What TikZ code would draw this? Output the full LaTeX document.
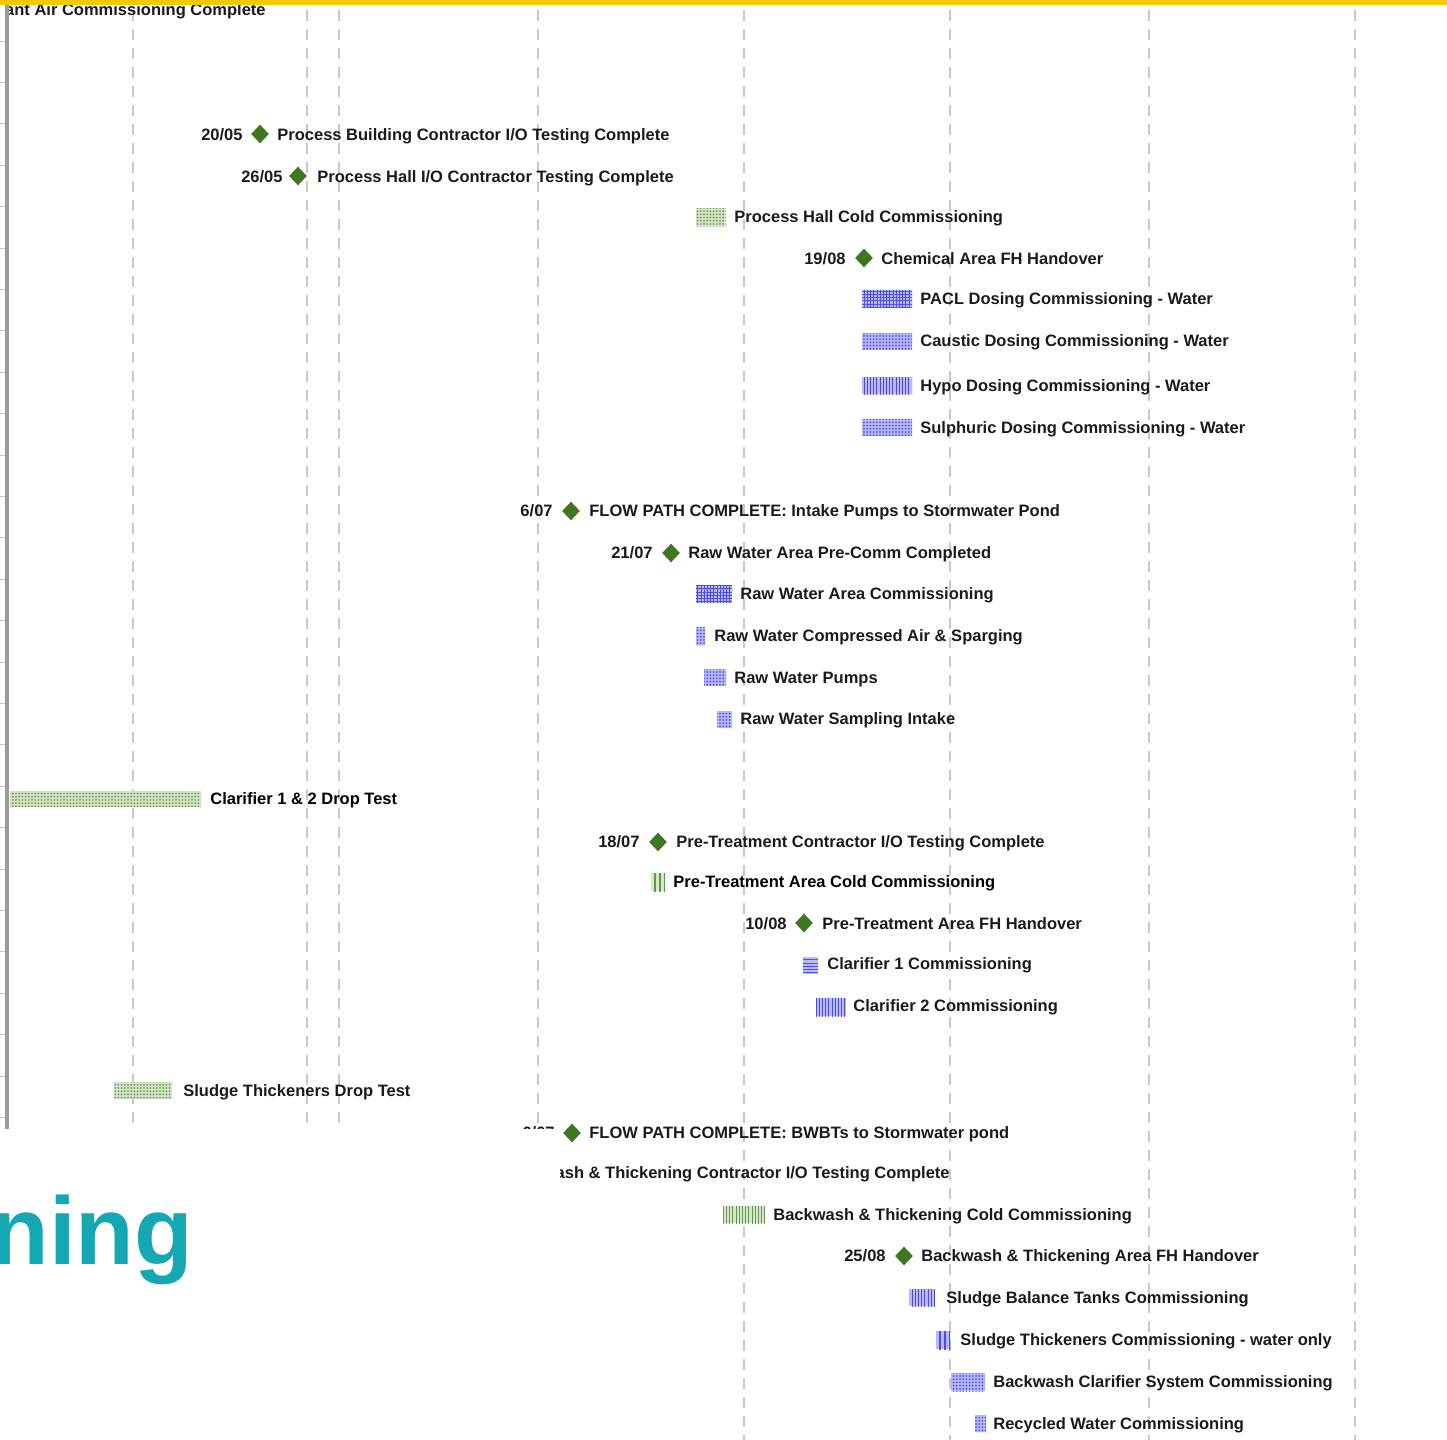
\documentclass[tikz,border=0pt]{standalone}
\usepackage{fontspec}
\setmainfont{Liberation Sans}
\usetikzlibrary{shapes.geometric,patterns.meta}
\definecolor{topyellow}{RGB}{247,200,0}
\definecolor{teal1}{RGB}{19,168,178}
\definecolor{msg}{RGB}{62,118,34}
\definecolor{gridc}{RGB}{200,200,200}
\definecolor{axisc}{RGB}{155,155,155}
\definecolor{tickc}{RGB}{200,200,200}
\definecolor{gfill}{RGB}{215,230,205}
\definecolor{gpat}{RGB}{100,150,75}
\definecolor{bfill}{RGB}{185,185,255}
\definecolor{bpat}{RGB}{75,75,240}
\definecolor{txt}{RGB}{25,25,35}
\tikzset{
 lbl/.style={font=\fontsize{8.25}{9}\selectfont\bfseries, text=txt, inner sep=0pt, anchor=base west},
 dlbl/.style={lbl, anchor=base east},
 msn/.style={diamond, fill=msg, minimum width=9pt, minimum height=9.5pt, inner sep=0pt},
 gridline/.style={draw=gridc, line width=1.2pt, dash pattern=on 5.5pt off 4pt},
 gbar/.style={preaction={fill=gfill}, pattern color=gpat},
 bbar/.style={preaction={fill=bfill}, pattern color=bpat},
 pdots/.style={pattern={Dots[distance=1.6pt,radius=0.5pt]}},
 pvl/.style={pattern={Lines[angle=90,distance=1.6pt,line width=0.5pt]}},
 pvlw/.style={pattern={Lines[angle=90,distance=2.5pt,line width=0.55pt]}},
 phl/.style={pattern={Lines[angle=0,distance=1.6pt,line width=0.5pt]}},
 phatch/.style={pattern={Hatch[distance=1.6pt,line width=0.3pt]}},
}
\begin{document}
\begin{tikzpicture}[x=0.5pt,y=-0.5pt]
\useasboundingbox (0,0) rectangle (1447,1440);
% grid lines
\foreach \gx in {133,307,339,538} \draw[gridline] (\gx,10) -- (\gx,1129);
\foreach \gx in {744,950,1149,1355} \draw[gridline] (\gx,10) -- (\gx,1440);
% axis
\draw[draw=axisc, line width=1.6pt] (7,4) -- (7,1130);
\foreach \k in {0,...,26} \draw[draw=tickc, line width=0.5pt] (0,{41+41.4*\k}) -- (5,{41+41.4*\k});
% top clipped text
\begin{scope}
\clip (9,0) rectangle (700,40);
\node[dlbl] (t0) at (266,16) {Plant Air Commissioning Complete};
\end{scope}
% rows
\node[dlbl] (d1) at (243,140) {20/05};
\node[msn] (m1) at (260,134) {};
\node[lbl] (t1) at (277,140) {Process Building Contractor I/O Testing Complete};
\node[dlbl] (d2) at (283,182) {26/05};
\node[msn] (m2) at (298,176) {};
\node[lbl] (t2) at (317,182) {Process Hall I/O Contractor Testing Complete};
\path[gbar,pdots] (696,208) rectangle (726,226);
\node[lbl] (t3) at (734,222) {Process Hall Cold Commissioning};
\node[dlbl] (d4) at (846,264) {19/08};
\node[msn] (m4) at (864,258) {};
\node[lbl] (t4) at (881,264) {Chemical Area FH Handover};
\path[bbar,phatch] (862,290) rectangle (912,307);
\node[lbl] (t5) at (920,304) {PACL Dosing Commissioning - Water};
\path[bbar,pdots] (862,333) rectangle (912,350);
\node[lbl] (t6) at (920,346) {Caustic Dosing Commissioning - Water};
\path[bbar,pvl] (862,377) rectangle (912,394);
\node[lbl] (t7) at (920,391) {Hypo Dosing Commissioning - Water};
\path[bbar,pdots] (862,419) rectangle (912,436);
\node[lbl] (t8) at (920,433) {Sulphuric Dosing Commissioning - Water};
\node[dlbl] (d9) at (553,516) {6/07};
\node[msn] (m9) at (571,511) {};
\node[lbl] (t9) at (589,516) {FLOW PATH COMPLETE: Intake Pumps to Stormwater Pond};
\node[dlbl] (d10) at (653,558) {21/07};
\node[msn] (m10) at (671,553) {};
\node[lbl] (t10) at (688,558) {Raw Water Area Pre-Comm Completed};
\path[bbar,phatch] (696,585) rectangle (732,603);
\node[lbl] (t11) at (740,599) {Raw Water Area Commissioning};
\path[bbar,pdots] (696,627) rectangle (705,645);
\node[lbl] (t12) at (714,641) {Raw Water Compressed Air \& Sparging};
\path[bbar,pdots] (704,669) rectangle (726,686);
\node[lbl] (t13) at (734,683) {Raw Water Pumps};
\path[bbar,pdots] (717,711) rectangle (732,728);
\node[lbl] (t14) at (740,724) {Raw Water Sampling Intake};
\path[gbar,pdots] (10,791) rectangle (201,807);
\node[lbl, text=black] (t15) at (210,804) {Clarifier 1 \& 2 Drop Test};
\node[dlbl] (d16) at (640,847) {18/07};
\node[msn] (m16) at (658,842) {};
\node[lbl] (t16) at (676,847) {Pre-Treatment Contractor I/O Testing Complete};
\path[gbar,pvlw] (651,873) rectangle (665,891);
\node[lbl, text=black] (t17) at (673,887) {Pre-Treatment Area Cold Commissioning};
\node[dlbl] (d18) at (787,929) {10/08};
\node[msn] (m18) at (804,923) {};
\node[lbl] (t18) at (822,929) {Pre-Treatment Area FH Handover};
\path[bbar,phl] (803,957) rectangle (818,974);
\node[lbl] (t19) at (827,969) {Clarifier 1 Commissioning};
\path[bbar,pvl] (816,998) rectangle (846,1016);
\node[lbl] (t20) at (853,1011) {Clarifier 2 Commissioning};
\path[gbar,pdots] (114,1082) rectangle (172,1099);
\node[lbl] (t21) at (183,1096) {Sludge Thickeners Drop Test};
\node[dlbl] (d22) at (555,1138) {6/07};
\node[msn] (m22) at (572,1133) {};
\node[lbl] (t22) at (589,1138) {FLOW PATH COMPLETE: BWBTs to Stormwater pond};
\node[dlbl] (t23) at (950,1178) {Backwash \& Thickening Contractor I/O Testing Complete};
\path[gbar,pvl] (723,1206) rectangle (765,1223);
\node[lbl] (t24) at (773,1220) {Backwash \& Thickening Cold Commissioning};
\node[dlbl] (d25) at (886,1261) {25/08};
\node[msn] (m25) at (904,1256) {};
\node[lbl] (t25) at (921,1261) {Backwash \& Thickening Area FH Handover};
\path[bbar,pvl] (909,1289) rectangle (935,1306);
\node[lbl] (t26) at (946,1303) {Sludge Balance Tanks Commissioning};
\path[bbar,pvlw] (936,1331) rectangle (950,1349);
\node[lbl] (t27) at (960,1345) {Sludge Thickeners Commissioning - water only};
\path[bbar,pdots] (951,1373) rectangle (985,1391);
\node[lbl] (t28) at (993,1387) {Backwash Clarifier System Commissioning};
\path[bbar,pdots] (975,1415) rectangle (986,1432);
\node[lbl] (t29) at (993,1429) {Recycled Water Commissioning};
% white overlay and title fragment
\fill[white] (0,1129) rectangle (560,1440);
\node[font=\fontsize{48}{50}\selectfont\bfseries, text=teal1, inner sep=0pt, anchor=base west] (title) at (-10,1264) {ning};
% top yellow bar
\fill[fill=topyellow] (0,0) rectangle (1447,4.5);
\end{tikzpicture}
\end{document}
